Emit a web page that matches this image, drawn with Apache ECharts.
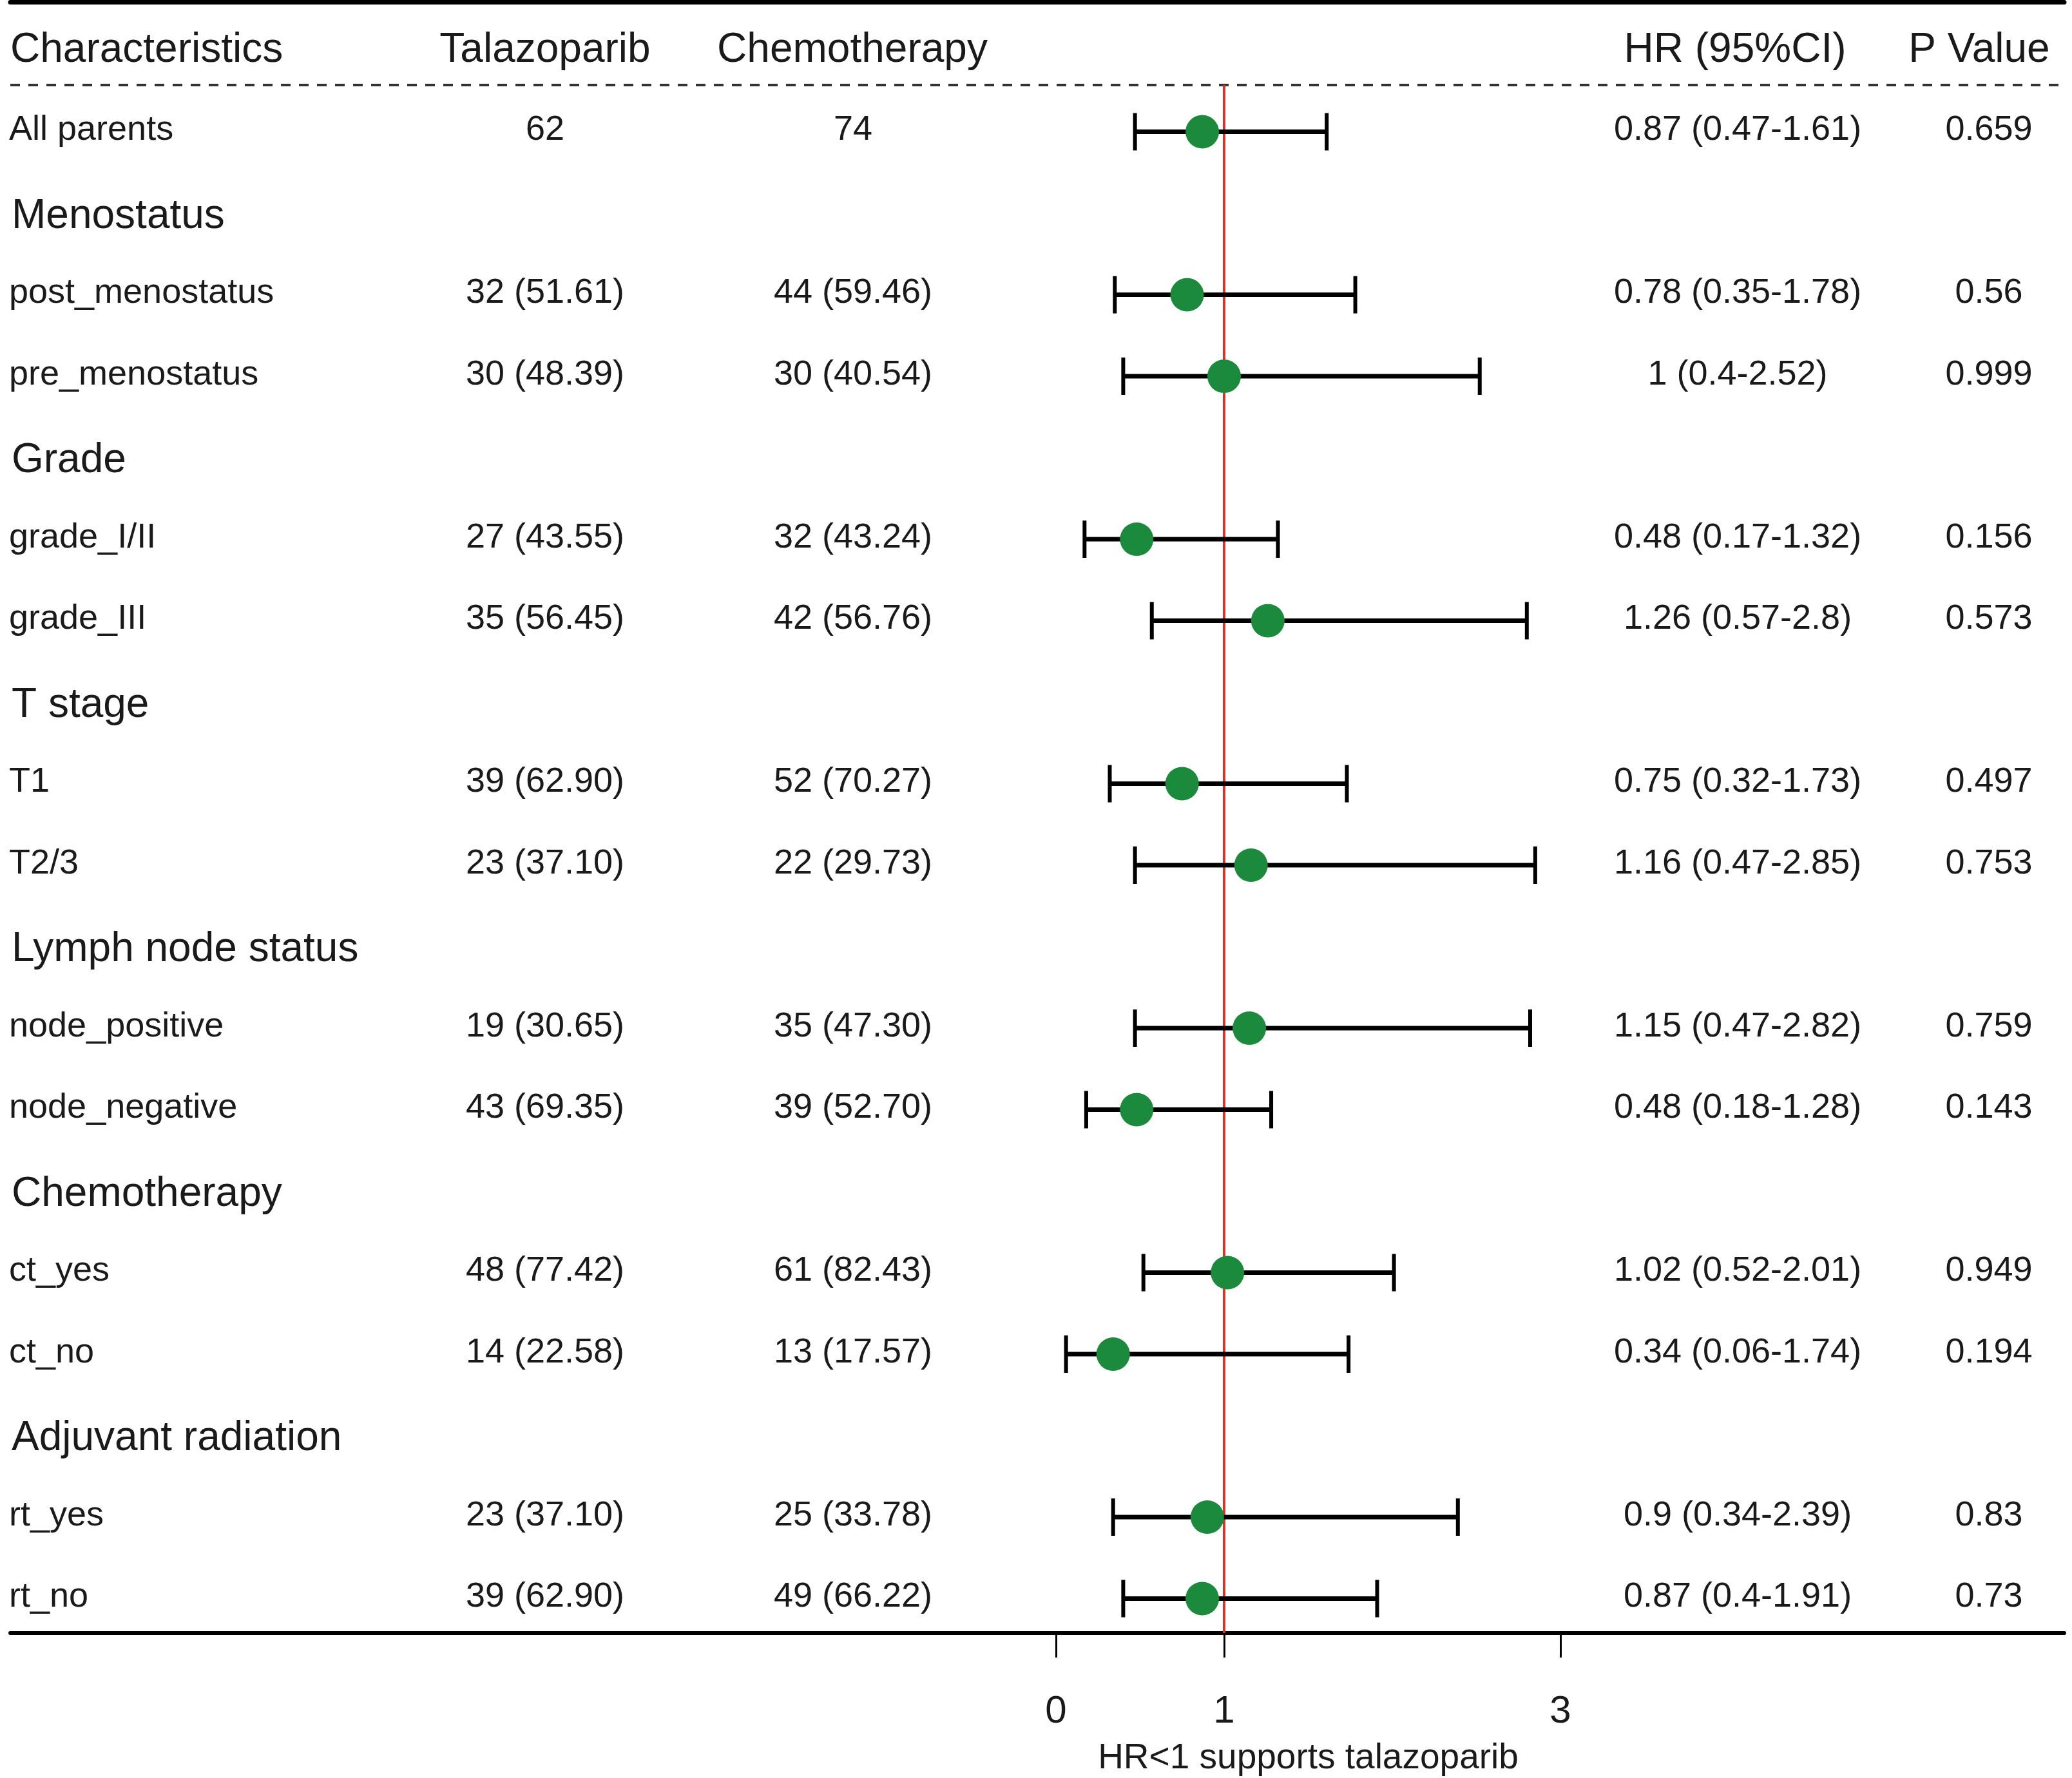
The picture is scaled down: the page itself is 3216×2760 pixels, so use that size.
<!DOCTYPE html>
<html>
<head>
<meta charset="utf-8">
<script src="https://cdn.jsdelivr.net/npm/echarts@6/dist/echarts.min.js"></script>
<style>
html,body{margin:0;padding:0;background:#ffffff;}
#chart{width:3216px;height:2760px;}
</style>
</head>
<body>
<div id="chart"></div>
<script>
// ---------------- data ----------------
const headers = ['Characteristics', 'Talazoparib', 'Chemotherapy', 'HR (95%CI)', 'P Value'];
const characteristics = ['All parents', 'Menostatus', 'post_menostatus', 'pre_menostatus', 'Grade', 'grade_I/II', 'grade_III',
  'T stage', 'T1', 'T2/3', 'Lymph node status', 'node_positive', 'node_negative', 'Chemotherapy', 'ct_yes', 'ct_no',
  'Adjuvant radiation', 'rt_yes', 'rt_no'];
const talazoparibN = ['62', null, '32 (51.61)', '30 (48.39)', null, '27 (43.55)', '35 (56.45)', null, '39 (62.90)', '23 (37.10)',
  null, '19 (30.65)', '43 (69.35)', null, '48 (77.42)', '14 (22.58)', null, '23 (37.10)', '39 (62.90)'];
const chemotherapyN = ['74', null, '44 (59.46)', '30 (40.54)', null, '32 (43.24)', '42 (56.76)', null, '52 (70.27)', '22 (29.73)',
  null, '35 (47.30)', '39 (52.70)', null, '61 (82.43)', '13 (17.57)', null, '25 (33.78)', '49 (66.22)'];
const hr = [0.87, null, 0.78, 1, null, 0.48, 1.26, null, 0.75, 1.16, null, 1.15, 0.48, null, 1.02, 0.34, null, 0.9, 0.87];
const ciLow = [0.47, null, 0.35, 0.4, null, 0.17, 0.57, null, 0.32, 0.47, null, 0.47, 0.18, null, 0.52, 0.06, null, 0.34, 0.4];
const ciHigh = [1.61, null, 1.78, 2.52, null, 1.32, 2.8, null, 1.73, 2.85, null, 2.82, 1.28, null, 2.01, 1.74, null, 2.39, 1.91];
const pValue = ['0.659', null, '0.56', '0.999', null, '0.156', '0.573', null, '0.497', '0.753', null, '0.759', '0.143', null,
  '0.949', '0.194', null, '0.83', '0.73'];
const xTicks = [0, 1, 3];
const refValue = 1;
const axisTitle = 'HR<1 supports talazoparib';

// ---------------- layout ----------------
const X_MIN = -6.218, X_MAX = 5.996;
const Y_MIN = -0.593, Y_MAX = 19.423;
const DASH_ROW = 0.427;
const COL_X = [14, 846, 1324, 2697, 3087];
const HEAD_X = [16, 846, 1323, 2693, 3072];
const COL_ALIGN = ['left', 'center', 'center', 'center', 'center'];
const FONT = '"Liberation Sans", Arial, Helvetica, sans-serif';
const TXT = '#1a1a1a';
const GROUP_DY = 5, DATA_DY = -2;

// text items
const textItems = [];
headers.forEach((h, c) => textItems.push({ r: 0, dy: 0, x: HEAD_X[c], text: h, align: COL_ALIGN[c], size: 64 }));
characteristics.forEach((name, i) => {
  const r = i + 1;
  const group = hr[i] === null;
  textItems.push({ r, dy: group ? GROUP_DY : DATA_DY, x: group ? 18 : COL_X[0], text: name, align: 'left', size: group ? 64 : 54 });
  if (!group) {
    textItems.push({ r, dy: DATA_DY, x: COL_X[1], text: talazoparibN[i], align: 'center', size: 54 });
    textItems.push({ r, dy: DATA_DY, x: COL_X[2], text: chemotherapyN[i], align: 'center', size: 54 });
    textItems.push({ r, dy: DATA_DY, x: COL_X[3], text: hr[i] + ' (' + ciLow[i] + '-' + ciHigh[i] + ')', align: 'center', size: 54 });
    textItems.push({ r, dy: DATA_DY, x: COL_X[4], text: pValue[i], align: 'center', size: 54 });
  }
});

const barData = [], dotData = [];
hr.forEach((v, i) => {
  if (v === null) return;
  barData.push([ciLow[i], ciHigh[i], i + 1]);
  dotData.push([v, i + 1]);
});

const chart = echarts.init(document.getElementById('chart'), null, { renderer: 'canvas' });

const option = {
  backgroundColor: '#ffffff',
  animation: false,
  grid: { left: 16, right: 12, top: 3, bottom: 225 },
  xAxis: [{
    type: 'value', min: X_MIN, max: X_MAX, position: 'bottom',
    axisLine: { show: true, onZero: false, lineStyle: { color: '#000', width: 6 } },
    axisTick: { show: true, customValues: xTicks, length: 38, lineStyle: { color: '#000', width: 3 } },
    axisLabel: { show: true, customValues: xTicks, fontSize: 60, fontFamily: FONT, color: TXT, margin: 92 },
    splitLine: { show: false }
  }, {
    type: 'value', min: X_MIN, max: X_MAX, position: 'top',
    axisLine: { show: true, onZero: false, lineStyle: { color: '#000', width: 7 } },
    axisTick: { show: false }, axisLabel: { show: false }, splitLine: { show: false }
  }],
  yAxis: {
    type: 'value', inverse: true, min: Y_MIN, max: Y_MAX, show: false,
    axisLine: { show: false }, splitLine: { show: false }
  },
  series: [
    {
      type: 'line', name: 'dash', data: [[X_MIN, DASH_ROW], [X_MAX, DASH_ROW]],
      symbol: 'none', silent: true, z: 1,
      lineStyle: { color: '#333', width: 4, type: [15, 13] }
    },
    {
      type: 'line', name: 'ref', data: [[refValue, DASH_ROW], [refValue, Y_MAX]],
      symbol: 'none', silent: true, z: 2,
      lineStyle: { color: '#d8352a', width: 4 }
    },
    {
      type: 'custom', name: 'ci', z: 3,
      encode: { x: [0, 1], y: 2 },
      data: barData,
      renderItem: function (params, api) {
        const r = api.value(2);
        const p1 = api.coord([api.value(0), r]);
        const p2 = api.coord([api.value(1), r]);
        const h = 29;
        return {
          type: 'group',
          children: [
            { type: 'line', shape: { x1: p1[0], y1: p1[1], x2: p2[0], y2: p2[1] }, style: { stroke: '#000', lineWidth: 7 } },
            { type: 'line', shape: { x1: p1[0], y1: p1[1] - h, x2: p1[0], y2: p1[1] + h }, style: { stroke: '#000', lineWidth: 6 } },
            { type: 'line', shape: { x1: p2[0], y1: p2[1] - h, x2: p2[0], y2: p2[1] + h }, style: { stroke: '#000', lineWidth: 6 } }
          ]
        };
      }
    },
    {
      type: 'scatter', name: 'hr', z: 4, data: dotData, symbol: 'circle', symbolSize: 52,
      itemStyle: { color: '#1b8a3c', opacity: 1 }
    },
    {
      type: 'custom', name: 'table', z: 5,
      encode: { x: 0, y: 1 },
      data: textItems.map(t => [0, t.r]),
      renderItem: function (params, api) {
        const t = textItems[params.dataIndex];
        const y = api.coord([0, t.r])[1] + t.dy;
        return {
          type: 'text',
          style: {
            x: t.x, y: y, text: t.text, align: t.align, verticalAlign: 'middle',
            fontSize: t.size, fontFamily: FONT, fill: TXT
          }
        };
      }
    }
  ]
};
chart.setOption(option);

const nameX = chart.convertToPixel({ xAxisIndex: 0 }, (xTicks[0] + xTicks[xTicks.length - 1]) / 2);
chart.setOption({
  graphic: [{
    type: 'text', x: nameX, y: 2730,
    style: { text: axisTitle, align: 'center', verticalAlign: 'middle', fontSize: 55, fontFamily: FONT, fill: TXT }
  }]
});
</script>
</body>
</html>
